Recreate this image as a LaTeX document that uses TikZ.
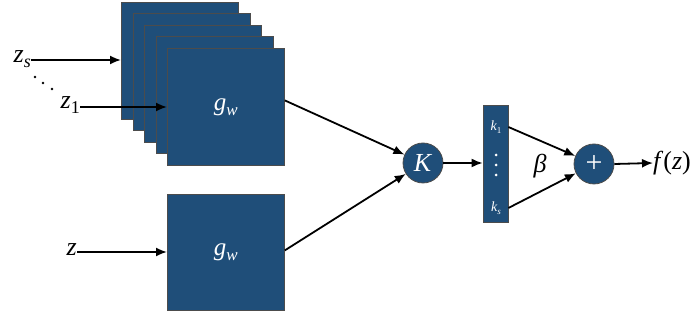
\documentclass[tikz,border=0pt]{standalone}
\usepackage{fontspec}
\setmainfont{Liberation Serif}
\usetikzlibrary{arrows.meta}
\definecolor{boxblue}{RGB}{31,78,121}
\newcommand{\gwlabel}{\textit{g}\raisebox{-5pt}{\fontsize{17}{17}\selectfont\textit{w}}}
\begin{document}
\begin{tikzpicture}[x=1pt,y=-1pt,
  blk/.style={draw=black!70, line width=0.8pt, fill=boxblue, minimum width=117pt, minimum height=117pt, inner sep=0, anchor=north west, text=white, font=\fontsize{25}{28}\selectfont},
  circ/.style={circle, draw=black!70, line width=0.8pt, fill=boxblue, minimum size=40pt, inner sep=0, text=white},
  arr/.style={line width=1.8pt, -{Latex[length=11pt,width=9pt]}},
  lbl/.style={font=\fontsize{26}{30}\selectfont, inner sep=0},
  klbl/.style={font=\fontsize{14}{16}\selectfont, inner sep=0, text=white},
  blackdot/.style={circle, fill=black, inner sep=0, minimum size=2.6pt},
  whitedot/.style={circle, fill=white, inner sep=0, minimum size=3pt}]
\useasboundingbox (0,0) rectangle (699,320);
% stacked boxes
\foreach \i in {0,...,3} \node[blk] (b\i) at (121+11.5*\i, 2+11.5*\i) {};
\node[blk] (front) at (167,48) {\gwlabel};
\node[blk, minimum height=116pt] (bot) at (167,194) {\gwlabel};
% inputs
\node[lbl, anchor=east] (zs) at (31,59) {\textit{z}\raisebox{-5pt}{\fontsize{18}{18}\selectfont\textit{s}}};
\node[lbl, anchor=east] (z1) at (80,105) {\textit{z}\raisebox{-5pt}{\fontsize{18}{18}\selectfont 1}};
\node[lbl, anchor=east] (z) at (77,250) {\textit{z}};
\node[blackdot] (d1) at (35,77) {};
\node[blackdot] (d2) at (43,83) {};
\node[blackdot] (d3) at (52,89) {};
\draw[arr] (zs.east |- 0,60) -- (b0.west |- 0,60);
\draw[arr] (z1.east |- 0,107) -- (front.west |- 0,107);
\draw[arr] (z.east |- 0,252) -- (bot.west |- 0,252);
% K node
\node[circ, lbl, text=white] (K) at (423,163) {\textit{K}};
\draw[arr] ([yshift=6.5pt]front.east) -- (K);
\draw[arr] ([yshift=2pt]bot.east) -- (K);
% bar
\node[draw=black!70, line width=0.8pt, fill=boxblue, minimum width=25pt, minimum height=117pt, inner sep=0] (bar) at (495.5,163.5) {};
\node[klbl] (k1) at (496,127) {\textit{k}\raisebox{-3pt}{\fontsize{9}{9}\selectfont 1}};
\node[klbl] (ks) at (496,208) {\textit{k}\raisebox{-3pt}{\fontsize{9}{9}\selectfont\textit{s}}};
\node[whitedot] (v1) at (496,155) {};
\node[whitedot] (v2) at (496,165) {};
\node[whitedot] (v3) at (496,175) {};
\draw[arr] (K.east) -- (K.east -| bar.west);
% plus
\node[circ, font=\fontsize{30}{30}\selectfont, text=white] (plus) at (594,164) {+};
\draw[arr] (k1.east -| bar.east) -- (plus);
\draw[arr] (ks.east -| bar.east) -- (plus);
\node[lbl] (beta) at (540,166) {\textit{β}};
\node[lbl, anchor=west] (fz) at (653,163) {\textit{f}(\textit{z})};
\draw[arr] (plus.east) -- (fz.west);
\end{tikzpicture}
\end{document}
